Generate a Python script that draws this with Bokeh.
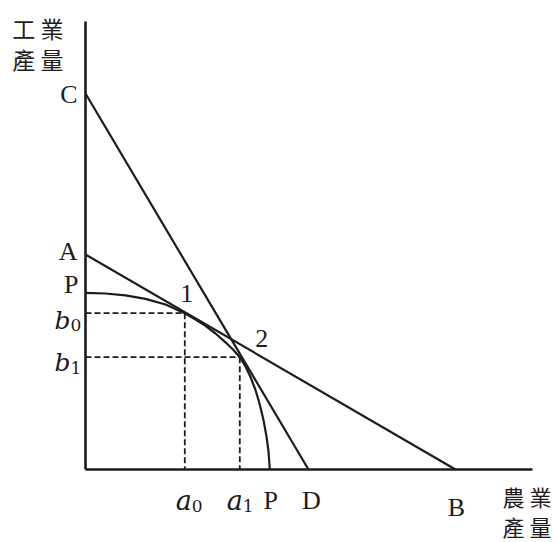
from bokeh.plotting import figure
from bokeh.models import Range1d
from bokeh.core.properties import value
from bokeh.embed import file_html
from bokeh.resources import INLINE

# ---- data (units: arbitrary quantity scale) ----
x_axis_end = 44.7          # length of agriculture axis
y_axis_end = 44.8          # length of industry axis

C_y, D_x = 37.6, 22.3      # line C-D intercepts
A_y, B_x = 21.5, 37.0      # line A-B intercepts

# production possibility curve P-P
ppf_x = [0, 2, 4, 6, 8, 9.93, 11, 12, 13, 14, 14.7, 15.43, 16, 16.5, 17, 17.4, 17.8, 18.1, 18.3, 18.43]
ppf_y = [17.67, 17.6, 17.42, 17.06, 16.5, 15.63, 15.0, 14.36, 13.6, 12.72, 12.05, 11.23, 10.3, 9.25, 7.95, 6.6, 4.95, 3.3, 1.8, 0]

# tangency points 1 and 2
a_vals = [9.93, 15.43]
b_vals = [15.63, 11.23]
point_labels = ["1", "2"]
subs = ["0", "1"]

y_title = ["工 業", "產 量"]
x_title = ["農 業", "產 量"]

INK = "#1e1b1c"
SERIF = value("Liberation Serif")
MATH = value("DejaVu Serif")
CJK = value("Noto Sans CJK TC")

p = figure(width=555, height=542, output_backend="svg", toolbar_location=None,
           x_range=Range1d(-8.5, 47.0), y_range=Range1d(-7.3, 46.9),
           x_axis_location=None, y_axis_location=None, min_border=0,
           outline_line_color=None, background_fill_color="white")
p.grid.visible = False

# dashed guides
p.segment(x0=[0, 0] + a_vals, y0=b_vals + b_vals, x1=a_vals + a_vals, y1=b_vals + [0, 0],
          line_color=INK, line_width=1.8, line_dash="6 3")

# lines C-D and A-B
p.segment(x0=[0, 0], y0=[C_y, A_y], x1=[D_x, B_x], y1=[0, 0], line_color=INK, line_width=2.2)

# curve P-P
p.line(ppf_x, ppf_y, line_color=INK, line_width=2.2, line_join="round")

# axes
p.segment(x0=[0, 0], y0=[0, 0], x1=[x_axis_end, 0], y1=[0, y_axis_end], line_color=INK, line_width=2.6)

# labels on y axis
p.text(x=[0, 0, 0], y=[C_y, A_y, ppf_y[0]], text=["C", "A", "P"], x_offset=[-8, -8, -7], y_offset=[1, -3, -8],
       text_font=SERIF, text_font_size="26px", text_align="right", text_baseline="middle", text_color=INK)
# b0, b1
p.text(x=[0, 0], y=b_vals, text=["b", "b"], x_offset=-15, y_offset=[7, 5.5],
       text_font=MATH, text_font_style="italic", text_font_size="25px",
       text_align="right", text_baseline="alphabetic", text_color=INK)
p.text(x=[0, 0], y=b_vals, text=subs, x_offset=-15, y_offset=[12, 10.5],
       text_font=MATH, text_font_size="17px", text_align="left", text_baseline="alphabetic", text_color=INK)
# a0, a1
p.text(x=a_vals, y=[0, 0], text=["a", "a"], x_offset=[7, 3], y_offset=31,
       text_font=MATH, text_font_style="italic", text_font_size="27px",
       text_align="right", text_baseline="alphabetic", text_color=INK)
p.text(x=a_vals, y=[0, 0], text=subs, x_offset=[7, 3], y_offset=36,
       text_font=MATH, text_font_size="17px", text_align="left", text_baseline="alphabetic", text_color=INK)
# labels on x axis
p.text(x=[ppf_x[-1], D_x, B_x], y=[0, 0, 0], text=["P", "D", "B"], x_offset=[1, 3, 1], y_offset=[31, 31, 38],
       text_font=SERIF, text_font_size="26px", text_align="center", text_baseline="alphabetic", text_color=INK)
# point labels
p.text(x=a_vals, y=b_vals, text=point_labels, x_offset=[2, 22], y_offset=[-20, -19],
       text_font=SERIF, text_font_size="26px", text_align="center", text_baseline="middle", text_color=INK)

# axis titles
p.text(x=[0, 0], y=[y_axis_end, y_axis_end], text=y_title, x_offset=-22, y_offset=[6, 37.5],
       text_font=CJK, text_font_size="23px", text_align="right", text_baseline="middle", text_color=INK)
p.text(x=[x_axis_end, x_axis_end], y=[0, 0], text=x_title, x_offset=-30, y_offset=[26.5, 56],
       text_font=CJK, text_font_size="22px", text_align="left", text_baseline="middle", text_color=INK)

open("out.html", "w").write(file_html(p, INLINE))
